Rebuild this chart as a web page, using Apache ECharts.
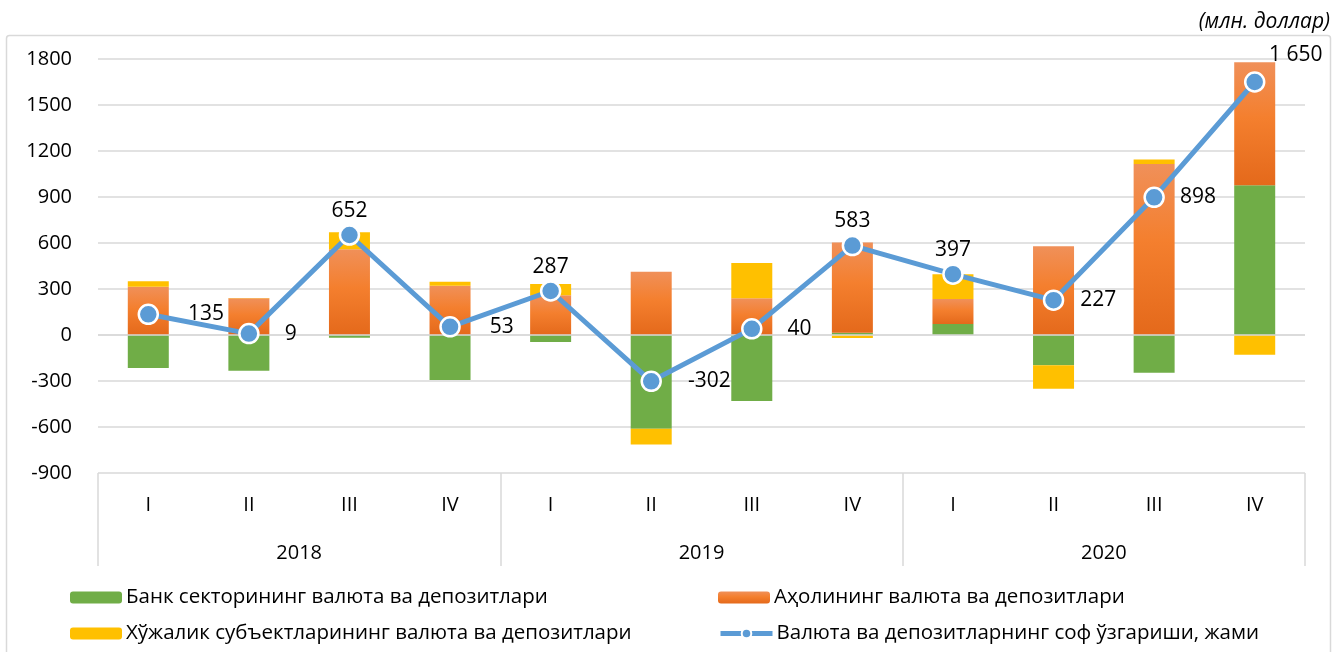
<!DOCTYPE html>
<html>
<head>
<meta charset="UTF-8">
<script src="https://cdn.jsdelivr.net/npm/echarts@6/dist/echarts.min.js"></script>
<style>
  html, body { margin: 0; padding: 0; background: #fff; }
  #chart { width: 1344px; height: 652px; }
</style>
</head>
<body>
<div id="chart"></div>
<script>
// quarters and years (two-level category axis)
const quarters = ['I', 'II', 'III', 'IV', 'I', 'II', 'III', 'IV', 'I', 'II', 'III', 'IV'];
const years = ['2018', '2019', '2020'];

// mln. dollars
const bank = [-215, -233, -18, -294, -46, -612, -430, 15, 72, -197, -247, 976];
const population = [315, 239, 560, 321, 260, 412, 240, 588, 162, 578, 1115, 802];
const business = [35, 3, 110, 26, 73, -102, 230, -20, 163, -154, 30, -128];
const total = [135, 9, 652, 53, 287, -302, 40, 583, 397, 227, 898, 1650];

const seriesNames = [
  'Банк секторининг валюта ва депозитлари',
  'Аҳолининг валюта ва депозитлари',
  'Хўжалик субъектларининг валюта ва депозитлари',
  'Валюта ва депозитларнинг соф ўзгариши, жами'
];

// where each total label sits around its point
const labelPlace = [['right', 29], ['right', 25], ['top', 3], ['right', 29], ['top', 3], ['right', 26],
  ['right', 25], ['top', 3], ['top', 3], ['right', 16], ['right', 15], ['top', 6]];

const FONT = 'Open Sans';
const GRID = '#D9D9D9';

function fmt(v) {
  return String(v).replace(/\B(?=(\d{3})+(?!\d))/g, ' ');
}

const orangeFill = new echarts.graphic.LinearGradient(0, 0, 0, 1, [
  { offset: 0, color: '#F09059' },
  { offset: 0.45, color: '#F47F2E' },
  { offset: 1, color: '#E4691B' }
]);

const chart = echarts.init(document.getElementById('chart'));

const lineData = total.map((v, i) => {
  const item = { value: v, label: { position: labelPlace[i][0], distance: labelPlace[i][1] } };
  if (i === total.length - 1) item.label.offset = [41, 0];
  return item;
});

function legendAt(name, left, top) {
  return {
    data: [name],
    left: left,
    top: top,
    padding: 0,
    itemWidth: 52,
    itemHeight: 12,
    itemGap: 6,
    lineStyle: { width: 5 },
    textStyle: { fontFamily: FONT, fontSize: 20.5, color: '#000', padding: [0, 0, 0, -1] }
  };
}

const option = {
  animation: false,
  backgroundColor: '#fff',
  textStyle: { fontFamily: FONT },
  graphic: [
    {
      type: 'rect',
      shape: { x: 6.5, y: 35.5, width: 1324, height: 640, r: 3 },
      style: { fill: 'none', stroke: GRID, lineWidth: 1.5 },
      silent: true
    },
    {
      type: 'text',
      right: 14,
      top: 12,
      style: { text: '(млн. доллар)', font: 'italic 21px "Open Sans"', fill: '#000' }
    }
  ],
  legend: [
    legendAt(seriesNames[0], 70, 587),
    legendAt(seriesNames[1], 718, 587),
    legendAt(seriesNames[2], 70, 623),
    legendAt(seriesNames[3], 718, 623)
  ],
  grid: { left: 98, right: 39, top: 59, bottom: 179 },
  xAxis: [
    {
      type: 'category',
      data: quarters,
      position: 'bottom',
      axisLine: { show: false },
      axisTick: { show: false },
      axisLabel: { margin: 22, fontSize: 20, color: '#000', fontFamily: FONT }
    },
    {
      type: 'category',
      data: years,
      position: 'bottom',
      axisLine: { show: false },
      axisTick: { show: true, length: 93, interval: 0, lineStyle: { color: GRID, width: 1.5 } },
      axisLabel: { margin: 70, fontSize: 20, color: '#000', fontFamily: FONT }
    }
  ],
  yAxis: {
    type: 'value',
    min: -900,
    max: 1800,
    interval: 300,
    axisLine: { show: false },
    axisTick: { show: false },
    axisLabel: { margin: 26, fontSize: 20, color: '#000', fontFamily: FONT, formatter: v => String(v) },
    splitLine: { lineStyle: { color: GRID, width: 1.5 } }
  },
  series: [
    {
      name: seriesNames[0],
      type: 'bar',
      stack: 'dep',
      barWidth: 41,
      itemStyle: { color: '#70AD47' },
      data: bank
    },
    {
      name: seriesNames[1],
      type: 'bar',
      stack: 'dep',
      barWidth: 41,
      itemStyle: { color: orangeFill },
      data: population
    },
    {
      name: seriesNames[2],
      type: 'bar',
      stack: 'dep',
      barWidth: 41,
      itemStyle: { color: '#FFC000' },
      data: business,
      markLine: {
        silent: true,
        symbol: 'none',
        label: { show: false },
        lineStyle: { color: GRID, width: 1.5, type: 'solid' },
        data: [{ yAxis: 0 }]
      }
    },
    {
      name: seriesNames[3],
      type: 'line',
      z: 5,
      symbol: 'circle',
      symbolSize: 19,
      lineStyle: { color: '#5B9BD5', width: 5 },
      itemStyle: { color: '#5B9BD5', borderColor: '#fff', borderWidth: 2.5 },
      label: {
        show: true,
        fontSize: 21,
        color: '#000',
        fontFamily: FONT,
        formatter: p => fmt(p.value)
      },
      data: lineData
    }
  ]
};

chart.setOption(option);
</script>
</body>
</html>
